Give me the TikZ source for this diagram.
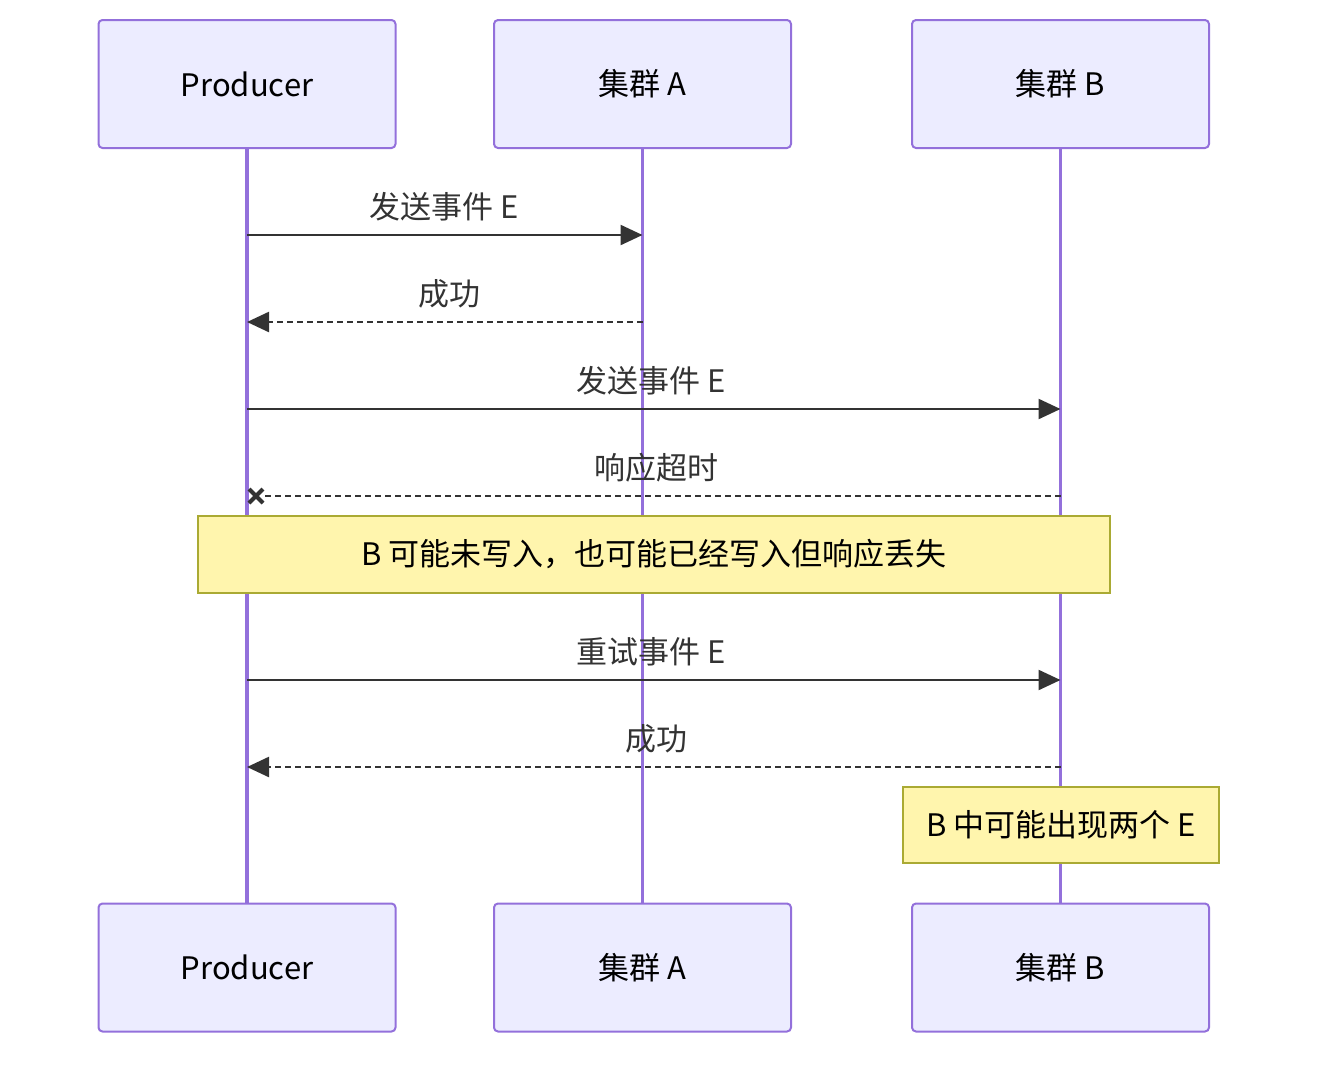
\documentclass[tikz,border=0pt]{standalone}
\usepackage{fontspec}
\setmainfont{Noto Sans CJK SC}
\usetikzlibrary{arrows.meta}
\definecolor{actfill}{HTML}{ECECFF}
\definecolor{actline}{HTML}{9370DB}
\definecolor{notefill}{HTML}{FFF5AD}
\definecolor{noteline}{HTML}{AAAA33}
\definecolor{msgc}{HTML}{333333}
\begin{document}
\begin{tikzpicture}[x=0.5pt,y=-0.5pt,
  actor/.style={draw=actline, line width=1pt, fill=actfill, rounded corners=2pt,
    minimum width=148.5pt, minimum height=64pt, inner sep=0pt,
    font=\fontsize{15.5}{18}\selectfont, text=black},
  lifeline/.style={draw=actline, line width=1.6pt},
  msgline/.style={draw=msgc, line width=1.2pt, -{Triangle[length=11pt,width=10pt]}},
  reply/.style={msgline, dash pattern=on 3pt off 2pt},
  lost/.style={draw=msgc, line width=1.2pt, dash pattern=on 3pt off 2pt},
  msglabel/.style={font=\fontsize{15.5}{18}\selectfont, text=msgc, inner sep=0pt},
  note/.style={draw=noteline, line width=1pt, fill=notefill, inner sep=0pt,
    font=\fontsize{15.5}{18}\selectfont, text=black},
  crossline/.style={draw=msgc, line width=2pt}
]
\useasboundingbox (0,0) rectangle (1334,1066);
% actors
\node[actor] (P) at (247,84) {Producer};
\node[actor] (A) at (642.5,84) {集群 A};
\node[actor] (B) at (1060.5,84) {集群 B};
\node[actor] (P2) at (247,967.5) {Producer};
\node[actor] (A2) at (642.5,967.5) {集群 A};
\node[actor] (B2) at (1060.5,967.5) {集群 B};
% lifelines
\draw[lifeline] (P.south) -- (P2.north);
\draw[lifeline] (A.south) -- (A2.north);
\draw[lifeline] (B.south) -- (B2.north);
% message endpoints
\coordinate (m1a) at (P |- 0,235);
\coordinate (m1b) at (A |- 0,235);
\coordinate (m2a) at (A |- 0,322);
\coordinate (m2b) at (P |- 0,322);
\coordinate (m3a) at (P |- 0,409);
\coordinate (m3b) at (B |- 0,409);
\coordinate (m4a) at (B |- 0,496);
\coordinate (m4b) at (264,496);
\coordinate (m4x) at (256,496);
\coordinate (m5a) at (P |- 0,680);
\coordinate (m5b) at (B |- 0,680);
\coordinate (m6a) at (B |- 0,767);
\coordinate (m6b) at (P |- 0,767);
% messages
\draw[msgline] (m1a) -- (m1b);
\node[msglabel] (l1) at (444,207) {发送事件 E};
\draw[reply] (m2a) -- (m2b);
\node[msglabel] (l2) at (449,294) {成功};
\draw[msgline] (m3a) -- (m3b);
\node[msglabel] (l3) at (651,381) {发送事件 E};
\draw[lost] (m4a) -- (m4b);
\draw[crossline] ([shift={(-7,-7)}]m4x) -- ([shift={(7,7)}]m4x);
\draw[crossline] ([shift={(-7,7)}]m4x) -- ([shift={(7,-7)}]m4x);
\node[msglabel] (l4) at (656,468) {响应超时};
% note 1
\node[note, minimum width=456pt, minimum height=38.5pt] (n1) at (654,554.5) {B 可能未写入，也可能已经写入但响应丢失};
\draw[msgline] (m5a) -- (m5b);
\node[msglabel] (l5) at (651,652) {重试事件 E};
\draw[reply] (m6a) -- (m6b);
\node[msglabel] (l6) at (656,739) {成功};
% note 2
\node[note, minimum width=158pt, minimum height=38pt] (n2) at (1061,825) {B 中可能出现两个 E};
\end{tikzpicture}
\end{document}
